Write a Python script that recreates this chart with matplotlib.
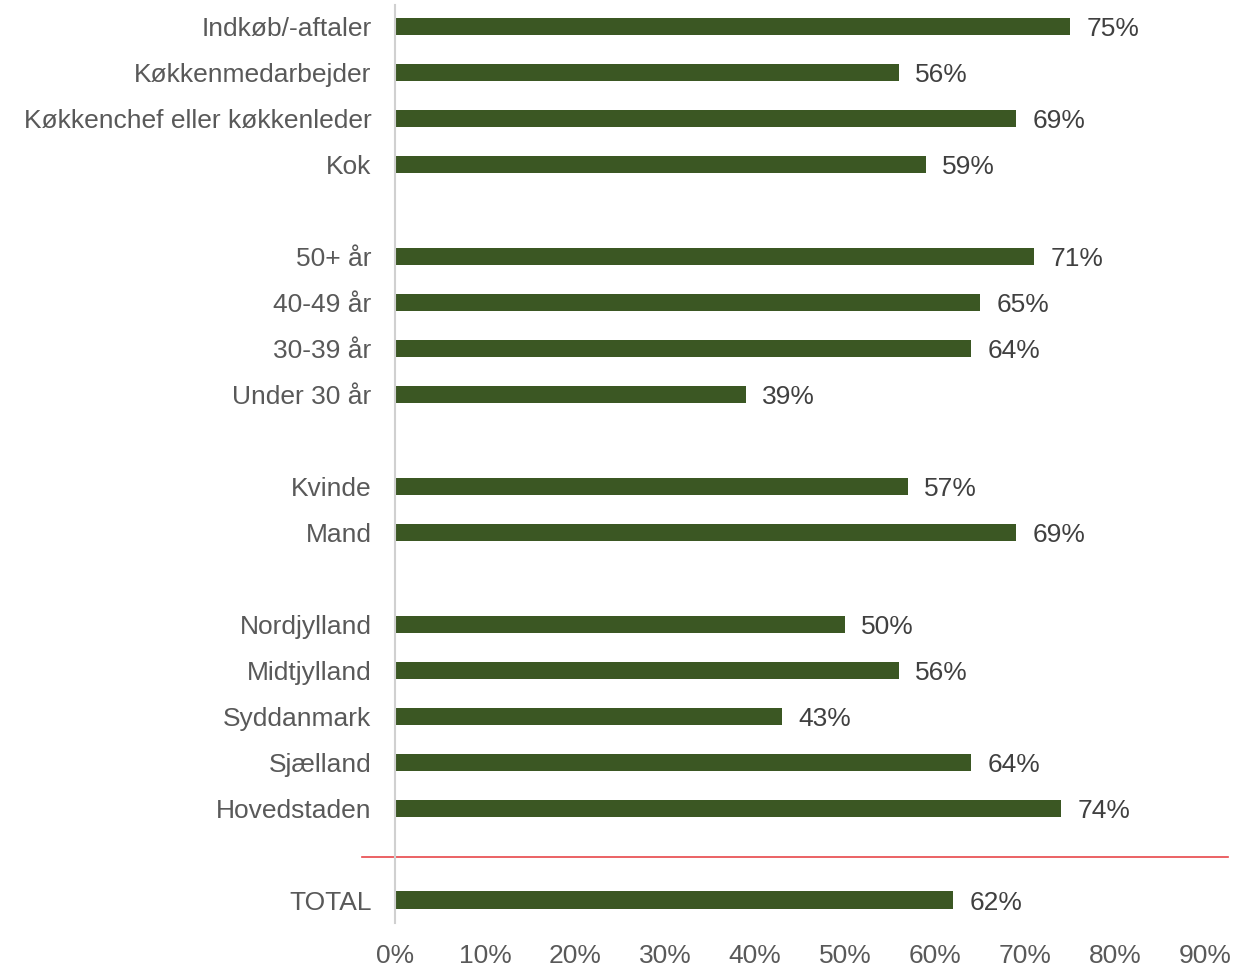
import numpy as np
import matplotlib.pyplot as plt

plt.rcParams['font.family'] = ['Liberation Sans', 'DejaVu Sans']

# groups of rows, top to bottom, separated by an empty slot
jobs = ["Indkøb/-aftaler", "Køkkenmedarbejder", "Køkkenchef eller køkkenleder", "Kok"]
jobs_vals = [75, 56, 69, 59]
ages = ["50+ år", "40-49 år", "30-39 år", "Under 30 år"]
ages_vals = [71, 65, 64, 39]
gender = ["Kvinde", "Mand"]
gender_vals = [57, 69]
regions = ["Nordjylland", "Midtjylland", "Syddanmark", "Sjælland", "Hovedstaden"]
regions_vals = [50, 56, 43, 64, 74]
total = ["TOTAL"]
total_vals = [62]

groups = [(jobs, jobs_vals), (ages, ages_vals), (gender, gender_vals),
          (regions, regions_vals), (total, total_vals)]

labels, values, pos = [], [], []
p = 0
for names, vals in groups:
    for n, v in zip(names, vals):
        labels.append(n)
        values.append(v)
        pos.append(p)
        p += 1
    p += 1  # gap row
sep_row = pos[-1] - 1

green = "#3B5723"
grey = "#595959"

fig = plt.figure(figsize=(12.56, 9.67), dpi=100)
ax = fig.add_axes([0.3145, 0.0455, 0.645, 0.9493])

ax.barh(pos, values, height=0.37, color=green)
for y, v in zip(pos, values):
    ax.text(v + 1.8, y + 0.06, f"{v}%", va="center", ha="left",
            fontsize=19, color="#404040")

ax.set_xlim(0, 90)
ax.set_ylim(19.5, -0.46)
ax.set_xticks(np.arange(0, 91, 10))
ax.set_xticklabels([f"{t}%" for t in range(0, 91, 10)], fontsize=19, color=grey)
ax.set_yticks(pos)
ax.set_yticklabels(labels, fontsize=19, color=grey)
ax.tick_params(axis="both", length=0)
ax.tick_params(axis="y", pad=17)
ax.tick_params(axis="x", pad=15)

for s in ["top", "right", "bottom"]:
    ax.spines[s].set_visible(False)
ax.spines["left"].set_color("#D0D0D0")
ax.spines["left"].set_linewidth(1.5)

# red separator above the total
ax.plot([-0.041, 1.028], [sep_row + 0.07, sep_row + 0.07], color="#E8474A", lw=1.2,
        transform=ax.get_yaxis_transform(), clip_on=False)

fig.savefig("out.png", dpi=100)
